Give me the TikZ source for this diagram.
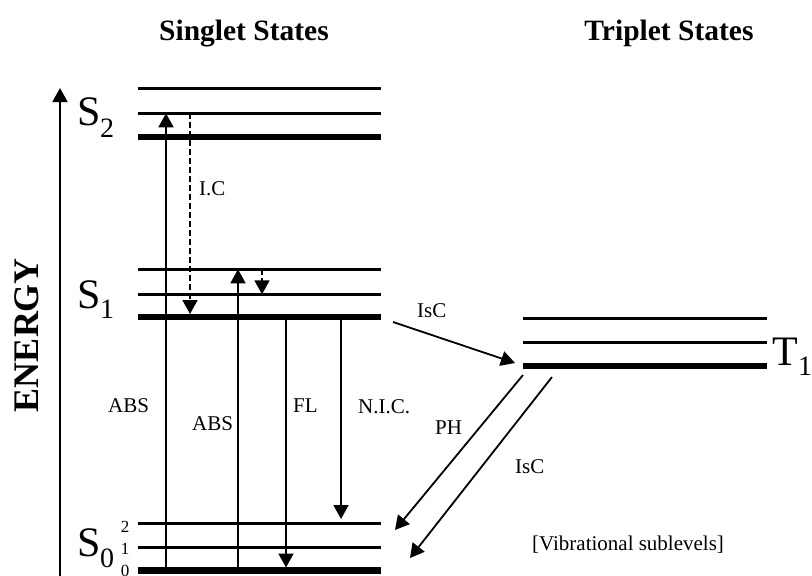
\documentclass[tikz,border=0pt]{standalone}
\usepackage{fontspec}
\setmainfont{Liberation Serif}
\usetikzlibrary{arrows.meta}
\begin{document}
\begin{tikzpicture}[x=1pt,y=-1pt,
  thinlvl/.style={line width=2.5pt},
  thicklvl/.style={line width=6.5pt},
  trans/.style={line width=1.8pt,-{Triangle[width=15pt,length=14pt]}},
  dtrans/.style={trans,dash pattern=on 6pt off 3pt},
  lbl/.style={font=\fontsize{21}{21}\selectfont,anchor=base west,inner sep=0pt},
  ttl/.style={font=\fontsize{29.5}{29.5}\selectfont\bfseries,anchor=base,inner sep=0pt},
  big/.style={font=\fontsize{42}{42}\selectfont,anchor=base west,inner sep=0pt},
  sub/.style={font=\fontsize{28}{28}\selectfont,anchor=base west,inner sep=0pt},
  vib/.style={font=\fontsize{17}{17}\selectfont,inner sep=0pt}]
\useasboundingbox (0,0) rectangle (812,576);

% titles
\node[ttl] (tS) at (244,40) {Singlet States};
\node[ttl] (tT) at (669,40) {Triplet States};

% energy axis
\coordinate (eB) at (60,576);
\coordinate (eT) at (60,88);
\draw[line width=1.8pt,-{Triangle[width=15pt,length=14pt]}] (eB) -- (eT);
\node[rotate=90,inner sep=0pt,font=\fontsize{36}{36}\selectfont\bfseries] (en) at (27,335) {ENERGY};

% singlet levels
\foreach \n/\y in {s2c/88.3,s2b/113.3,s1c/269.3,s1b/294.3,s0c/523.3,s0b/547.3}{
  \coordinate (\n-l) at (138,\y); \coordinate (\n-r) at (381,\y);
  \draw[thinlvl] (\n-l) -- (\n-r);}
\foreach \n/\y in {s2a/137,s1a/317,s0a/570.7}{
  \coordinate (\n-l) at (138,\y); \coordinate (\n-r) at (381,\y);
  \draw[thicklvl] (\n-l) -- (\n-r);}
% triplet levels
\foreach \n/\y in {t1c/318.3,t1b/342.3}{
  \coordinate (\n-l) at (523,\y); \coordinate (\n-r) at (767,\y);
  \draw[thinlvl] (\n-l) -- (\n-r);}
\coordinate (t1a-l) at (523,366); \coordinate (t1a-r) at (767,366);
\draw[thicklvl] (t1a-l) -- (t1a-r);

% state labels
\node[big] (S2) at (77,125) {S};
\node[sub] (S2s) at (100,137) {2};
\node[big] (S1) at (77,308) {S};
\node[sub] (S1s) at (100,318) {1};
\node[big] (S0) at (77,556) {S};
\node[sub] (S0s) at (100,567) {0};
\node[big] (T1) at (772,365) {T};
\node[sub] (T1s) at (798,375) {1};
\node[vib] (v2) at (125,527) {2};
\node[vib] (v1) at (125,549) {1};
\node[vib] (v0) at (125,571) {0};

% transitions
\coordinate (a1s) at (166,570.7); \coordinate (a1e) at (166,113.3);
\draw[trans] (a1s) -- (a1e);
\coordinate (ic1s) at (190,113.3); \coordinate (ic1e) at (190,314);
\draw[dtrans] (ic1s) -- (ic1e);
\coordinate (a2s) at (238,570.7); \coordinate (a2e) at (238,269.3);
\draw[trans] (a2s) -- (a2e);
\coordinate (ic2s) at (262,269.3); \coordinate (ic2e) at (262,294.3);
\draw[dtrans] (ic2s) -- (ic2e);
\coordinate (fls) at (286,317); \coordinate (fle) at (286,567.5);
\draw[trans] (fls) -- (fle);
\coordinate (nics) at (341,317); \coordinate (nice) at (341,519);
\draw[trans] (nics) -- (nice);
\coordinate (isc1s) at (393,322); \coordinate (isc1e) at (515,363);
\draw[trans] (isc1s) -- (isc1e);
\coordinate (phs) at (523,375); \coordinate (phe) at (395,530);
\draw[trans] (phs) -- (phe);
\coordinate (isc2s) at (552,377); \coordinate (isc2e) at (410,558);
\draw[trans] (isc2s) -- (isc2e);

% transition labels
\node[lbl] (lIC) at (199,195) {I.C};
\node[lbl] (lA1) at (108,412) {ABS};
\node[lbl] (lA2) at (192,430) {ABS};
\node[lbl] (lFL) at (293,412) {FL};
\node[lbl] (lNIC) at (358,413) {N.I.C.};
\node[lbl] (lIsC1) at (417,317) {IsC};
\node[lbl] (lPH) at (435,434) {PH};
\node[lbl] (lIsC2) at (515,473) {IsC};
\node[lbl] (lVib) at (532,550) {[Vibrational sublevels]};
\end{tikzpicture}
\end{document}
